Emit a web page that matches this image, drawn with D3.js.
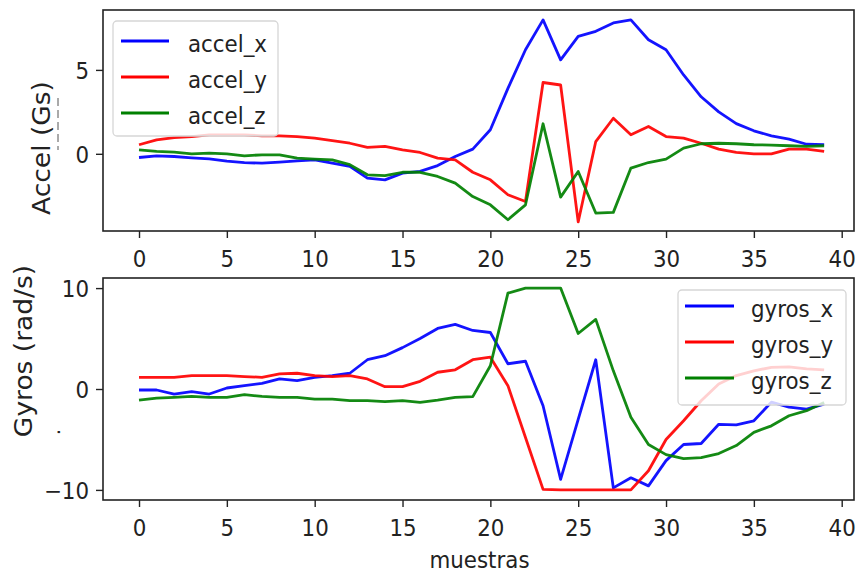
<!DOCTYPE html>
<html>
<head>
<meta charset="utf-8">
<script src="https://cdn.jsdelivr.net/npm/d3@7"></script>
<style>
  html, body { margin: 0; padding: 0; background: #fff; }
  svg { display: block; font-family: "DejaVu Sans", sans-serif; }
</style>
</head>
<body>
<svg id="chart" width="856" height="573"></svg>
<script>
// Accelerometer readings (Gs), one value per sample
const accelX = [-0.22, -0.12, -0.16, -0.24, -0.30, -0.44, -0.52, -0.56, -0.50, -0.42,
                -0.36, -0.56, -0.75, -1.45, -1.55, -1.15, -1.05, -0.70, -0.16, 0.28,
                1.43, 3.90, 6.20, 7.98, 5.60, 7.00, 7.30, 7.80, 7.98, 6.80,
                6.20, 4.70, 3.40, 2.50, 1.80, 1.37, 1.07, 0.87, 0.57, 0.54];
const accelY = [0.54, 0.83, 0.97, 1.03, 1.13, 1.13, 1.13, 1.07, 1.07, 1.03,
                0.93, 0.79, 0.63, 0.38, 0.44, 0.24, 0.08, -0.26, -0.36, -1.10,
                -1.55, -2.44, -2.84, 4.25, 4.10, -4.06, 0.73, 2.12, 1.13, 1.63,
                1.03, 0.93, 0.63, 0.28, 0.08, 0.00, 0.00, 0.28, 0.28, 0.14];
const accelZ = [0.24, 0.14, 0.10, 0.00, 0.04, 0.00, -0.12, -0.06, -0.06, -0.26,
                -0.32, -0.36, -0.65, -1.25, -1.30, -1.10, -1.10, -1.35, -1.75, -2.55,
                -3.04, -3.93, -3.04, 1.79, -2.58, -1.05, -3.53, -3.49, -0.85, -0.52,
                -0.32, 0.34, 0.60, 0.63, 0.60, 0.54, 0.52, 0.48, 0.44, 0.48];

// Gyroscope readings (rad/s), one value per sample
const gyrosX = [-0.10, -0.10, -0.50, -0.27, -0.50, 0.10, 0.33, 0.56, 1.00, 0.83,
                1.16, 1.33, 1.56, 2.90, 3.30, 4.10, 5.00, 6.00, 6.40, 5.80,
                5.60, 2.50, 2.75, -1.66, -8.96, -3.00, 2.90, -9.80, -8.80, -9.60,
                -7.10, -5.50, -5.40, -3.50, -3.55, -3.15, -1.30, -1.80, -2.00, -1.50];
const gyrosY = [1.16, 1.16, 1.16, 1.33, 1.33, 1.33, 1.23, 1.16, 1.49, 1.56,
                1.33, 1.23, 1.33, 1.00, 0.23, 0.23, 0.76, 1.66, 1.90, 2.90,
                3.15, 0.33, -4.80, -9.95, -10.0, -10.0, -10.0, -10.0, -10.0, -8.10,
                -5.00, -3.15, -1.16, 0.50, 1.33, 1.80, 2.15, 2.20, 2.00, 1.90];
const gyrosZ = [-1.10, -0.90, -0.83, -0.73, -0.83, -0.83, -0.56, -0.73, -0.83, -0.83,
                -1.00, -1.00, -1.16, -1.16, -1.26, -1.16, -1.33, -1.10, -0.83, -0.76,
                2.30, 9.50, 10.0, 10.0, 10.0, 5.50, 6.90, 1.80, -2.80, -5.50,
                -6.50, -6.90, -6.80, -6.40, -5.60, -4.30, -3.65, -2.65, -2.15, -1.33];

const accelNames = ["accel_x", "accel_y", "accel_z"];
const gyrosNames = ["gyros_x", "gyros_y", "gyros_z"];
const xTicks = [0, 5, 10, 15, 20, 25, 30, 35, 40];
const accelTicks = [0, 5];
const gyrosTicks = [-10, 0, 10];
const seriesColors = ["#0000ff", "#ff0000", "#008000"];

// ---- layout ----
const LEFT = 103, RIGHT = 854;
const SX = 0.93;            // slight horizontal condensing of the type
const TICK_FONT = 23;
const INK = "#222";

const svg = d3.select("#chart");
const x = d3.scaleLinear().domain([-2.05, 40.7]).range([LEFT, RIGHT]);

function drawPanel(cfg) {
  const y = d3.scaleLinear().domain(cfg.yDomain).range([cfg.bottom, cfg.top]);
  const g = svg.append("g");

  // data lines
  const line = d3.line().x((d, i) => x(i)).y(d => y(d));
  cfg.series.forEach((vals, k) => {
    g.append("path")
      .attr("d", line(vals))
      .attr("fill", "none")
      .attr("stroke", seriesColors[k])
      .attr("stroke-width", 2.8)
      .attr("stroke-linejoin", "round")
      .attr("stroke-opacity", 0.92);
  });

  // x axis
  const xa = g.append("g")
    .attr("transform", `translate(0,${cfg.bottom})`)
    .call(d3.axisBottom(x).tickValues(xTicks).tickSize(7).tickFormat(d3.format("d")));
  xa.select(".domain").remove();
  xa.selectAll(".tick line").attr("stroke", INK).attr("stroke-width", 1.4);
  xa.selectAll(".tick text")
    .attr("y", 0).attr("dy", 0)
    .attr("transform", `translate(0,36) scale(${SX},1)`)
    .attr("fill", INK)
    .style("font-size", TICK_FONT + "px")
    .style("font-family", "DejaVu Sans");

  // y axis
  const ya = g.append("g")
    .attr("transform", `translate(${LEFT},0)`)
    .call(d3.axisLeft(y).tickValues(cfg.ticks).tickSize(7)
      .tickFormat(d => d < 0 ? "\u2212" + Math.abs(d) : String(d)));
  ya.select(".domain").remove();
  ya.selectAll(".tick line").attr("stroke", INK).attr("stroke-width", 1.4);
  ya.selectAll(".tick text")
    .attr("x", 0).attr("dy", "0.365em")
    .attr("transform", `translate(-14,0) scale(${SX},1)`)
    .attr("fill", INK)
    .style("font-size", TICK_FONT + "px")
    .style("font-family", "DejaVu Sans");

  // frame
  g.append("rect")
    .attr("x", LEFT).attr("y", cfg.top)
    .attr("width", RIGHT - LEFT).attr("height", cfg.bottom - cfg.top)
    .attr("fill", "none").attr("stroke", INK).attr("stroke-width", 1.6);

  // y label
  g.append("text")
    .attr("transform", `translate(${cfg.labelX},${cfg.labelY}) scale(${SX},1) rotate(-90)`)
    .attr("text-anchor", "middle")
    .attr("fill", INK)
    .style("font-size", "26.5px")
    .text(cfg.label);

  // legend
  const L = cfg.legend;
  const lg = g.append("g");
  lg.append("rect")
    .attr("x", L.x).attr("y", L.y).attr("width", L.w).attr("height", L.h)
    .attr("rx", 4).attr("ry", 4)
    .attr("fill", "#fff").attr("fill-opacity", 0.8)
    .attr("stroke", "#d6d6d6").attr("stroke-width", 1.3);
  cfg.names.forEach((name, k) => {
    const ly = L.y + L.first + k * L.step;
    lg.append("line")
      .attr("x1", L.x + L.lineStart).attr("x2", L.x + L.lineStart + L.lineLen)
      .attr("y1", ly).attr("y2", ly)
      .attr("stroke", seriesColors[k]).attr("stroke-width", 3.2);
    lg.append("text")
      .attr("transform", `translate(${L.x + L.textStart},${ly + L.baseline}) scale(${SX},1)`)
      .attr("fill", INK)
      .style("font-size", TICK_FONT + "px")
      .text(name);
  });
  return y;
}

drawPanel({
  top: 10, bottom: 231,
  yDomain: [-4.6, 8.57],
  ticks: accelTicks,
  series: [accelX, accelY, accelZ],
  names: accelNames,
  label: "Accel (Gs)", labelX: 49.5, labelY: 148,
  legend: { x: 113, y: 21, w: 165, h: 115, first: 20, step: 36,
            lineStart: 8, lineLen: 48, textStart: 75, baseline: 11 }
});

drawPanel({
  top: 278, bottom: 500,
  yDomain: [-11, 11],
  ticks: gyrosTicks,
  series: [gyrosX, gyrosY, gyrosZ],
  names: gyrosNames,
  label: "Gyros (rad/s)", labelX: 31.5, labelY: 351,
  legend: { x: 678, y: 290, w: 168, h: 115, first: 16, step: 36,
            lineStart: 7, lineLen: 49, textStart: 73, baseline: 11 }
});

// faint marks beside the y labels
svg.append("line")
  .attr("x1", 58).attr("x2", 58).attr("y1", 98).attr("y2", 150)
  .attr("stroke", "#555").attr("stroke-width", 1).attr("stroke-dasharray", "8,4");
svg.append("text")
  .attr("transform", `translate(60,432) scale(${SX},1) rotate(-90)`)
  .attr("text-anchor", "middle")
  .attr("fill", INK)
  .style("font-size", "20px")
  .text(".");

// x axis title
svg.append("text")
  .attr("transform", `translate(479.5,568) scale(${SX},1)`)
  .attr("text-anchor", "middle")
  .attr("fill", INK)
  .style("font-size", TICK_FONT + "px")
  .text("muestras");
</script>
</body>
</html>
